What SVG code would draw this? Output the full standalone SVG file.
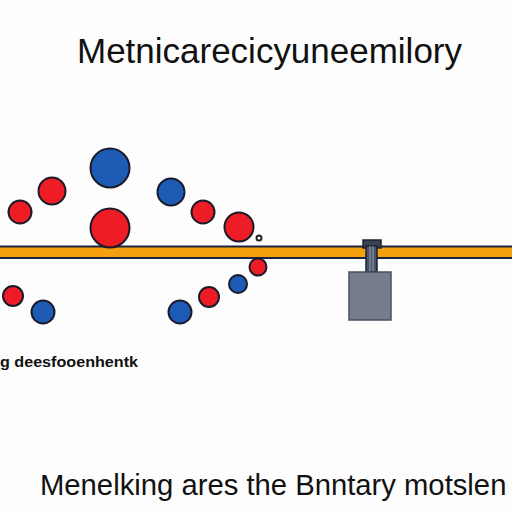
<svg xmlns="http://www.w3.org/2000/svg" width="512" height="512" viewBox="0 0 512 512">
<style>
.t{font-family:"Liberation Sans",Arial,sans-serif;fill:#111}
.r{fill:#EE1C25;stroke:#1a1a2a;stroke-width:2}
.b{fill:#1E5BB5;stroke:#1a1a2a;stroke-width:2}
</style>
<rect width="512" height="512" fill="#FDFDFD"/>
<text class="t" x="77" y="63" font-size="35" textLength="385" lengthAdjust="spacingAndGlyphs">Metnicarecicyuneemilory</text>
<g id="bar">
<rect x="-2" y="246.5" width="516" height="11.5" fill="#F5A00F" stroke="#1a2440" stroke-width="2"/>
</g>
<g id="circles">
<circle class="b" cx="110" cy="168" r="19.5"/>
<circle class="r" cx="52" cy="191" r="13.5"/>
<circle class="r" cx="20" cy="212" r="11.5"/>
<circle class="r" cx="110" cy="228" r="19.5"/>
<circle class="b" cx="171" cy="192" r="13.5"/>
<circle class="r" cx="203" cy="212" r="11.5"/>
<circle class="r" cx="239" cy="227" r="14.5"/>
<circle cx="259" cy="238" r="2.5" fill="#fff" stroke="#222" stroke-width="2"/>
<circle class="r" cx="258" cy="267" r="8.5"/>
<circle class="b" cx="238" cy="284" r="9"/>
<circle class="r" cx="209" cy="297" r="10"/>
<circle class="b" cx="180" cy="312" r="11.5"/>
<circle class="r" cx="13" cy="296" r="10"/>
<circle class="b" cx="43" cy="312" r="11.5"/>
</g>
<g id="weight">
<rect x="363" y="240" width="18" height="8" fill="#3a4150" stroke="#1a2030" stroke-width="1.5"/>
<rect x="366" y="246" width="11" height="26" fill="#4a5468" stroke="#1a2030" stroke-width="1.5"/>
<line x1="370" y1="246" x2="370" y2="271" stroke="#9aa3b8" stroke-width="1"/>
<line x1="373" y1="246" x2="373" y2="271" stroke="#9aa3b8" stroke-width="1"/>
<rect x="349" y="272" width="42" height="48" fill="#767C8E" stroke="#4a5060" stroke-width="1.5"/>
</g>
<text class="t" x="0" y="367" font-size="14" font-weight="bold" textLength="138" lengthAdjust="spacingAndGlyphs">g deesfooenhentk</text>
<text class="t" transform="translate(40,495) scale(1.06,1.2)" x="0" y="0" font-size="25" textLength="440" lengthAdjust="spacingAndGlyphs">Menelking ares the Bnntary motslen</text>
</svg>
